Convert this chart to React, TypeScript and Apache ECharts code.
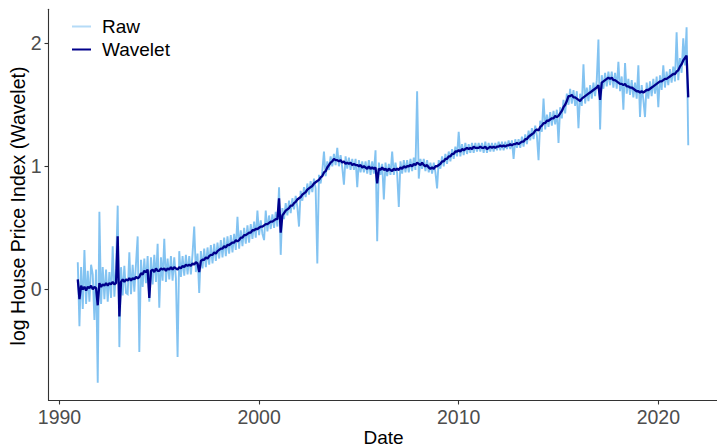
import { useEffect, useRef } from "react";
import * as echarts from "echarts";

// Monthly observations, first one December 1990, last one July 2021
const START_YEAR = 1990;
const START_MONTH = 12;

const X_TICKS = [1990, 2000, 2010, 2020];
const Y_TICKS = [0, 1, 2];

const RAW: number[] = [
  0.22,
  -0.30, 0.18, -0.16, 0.32, -0.12, 0.15, -0.10, 0.20, 0.12, -0.25, 0.16, -0.76, // 1991
  0.63, -0.12, 0.18, -0.08, 0.16, -0.10, 0.14, -0.07, 0.35, -0.06, 0.17, 0.68, // 1992
  -0.47, 0.18, -0.05, 0.19, -0.03, -0.04, 0.30, -0.04, 0.20, -0.02, 0.21, 0.43, // 1993
  -0.51, 0.24, 0.02, 0.25, 0.05, 0.27, -0.10, 0.26, 0.04, 0.28, 0.06, 0.37, // 1994
  -0.15, 0.26, 0.07, 0.41, 0.06, 0.25, 0.08, 0.27, 0.07, 0.26, 0.09, -0.55, // 1995
  0.31, 0.10, 0.27, 0.11, 0.28, 0.12, 0.27, 0.12, 0.29, 0.51, 0.14, 0.29, // 1996
  -0.03, 0.31, 0.17, 0.33, 0.18, 0.34, 0.20, 0.36, 0.21, 0.37, 0.23, 0.38, // 1997
  0.25, 0.40, 0.26, 0.42, 0.27, 0.43, 0.29, 0.44, 0.30, 0.45, 0.32, 0.59, // 1998
  0.33, 0.48, 0.35, 0.50, 0.37, 0.52, 0.38, 0.53, 0.41, 0.55, 0.42, 0.64, // 1999
  0.44, 0.56, 0.45, 0.40, 0.64, 0.47, 0.60, 0.49, 0.61, 0.50, 0.63, 0.51, // 2000
  0.83, 0.28, 0.66, 0.57, 0.70, 0.60, 0.72, 0.62, 0.74, 0.65, 0.76, 0.67, // 2001
  0.51, 0.80, 0.72, 0.83, 0.75, 0.86, 0.77, 0.88, 0.79, 0.90, 0.82, 0.21, // 2002
  0.93, 0.86, 0.96, 1.12, 0.92, 1.04, 0.97, 1.08, 1.00, 1.10, 1.01, 1.15, // 2003
  1.00, 1.09, 0.99, 0.85, 1.08, 0.98, 1.07, 0.97, 1.06, 0.97, 1.06, 0.83, // 2004
  1.05, 0.95, 1.04, 0.95, 1.04, 0.94, 1.05, 0.93, 1.04, 0.94, 1.13, 0.39, // 2005
  1.03, 0.93, 1.02, 0.73, 1.03, 0.92, 1.02, 0.93, 1.12, 0.93, 1.03, 0.94, // 2006
  0.67, 1.04, 0.94, 1.05, 0.95, 1.05, 0.95, 1.06, 0.96, 1.07, 0.97, 1.61, // 2007
  0.90, 1.06, 0.98, 1.06, 0.96, 1.05, 0.95, 1.03, 0.94, 1.03, 0.95, 0.82, // 2008
  1.05, 0.98, 1.08, 1.00, 1.10, 1.02, 1.12, 1.04, 1.14, 1.06, 1.16, 1.08, // 2009
  1.28, 1.08, 1.18, 1.09, 1.19, 1.10, 1.18, 1.11, 1.19, 1.11, 1.19, 1.12, // 2010
  1.19, 1.12, 1.19, 1.11, 1.20, 1.11, 1.19, 1.12, 1.19, 1.12, 1.19, 1.13, // 2011
  1.20, 1.13, 1.20, 1.13, 1.20, 1.14, 1.21, 1.14, 1.21, 1.06, 1.22, 1.15, // 2012
  1.22, 1.15, 1.24, 1.16, 1.26, 1.18, 1.29, 1.21, 1.31, 1.22, 1.33, 1.25, // 2013
  1.05, 1.37, 1.28, 1.55, 1.30, 1.42, 1.32, 1.44, 1.33, 1.45, 1.34, 1.46, // 2014
  1.19, 1.48, 1.39, 1.54, 1.43, 1.59, 1.50, 1.63, 1.51, 1.62, 1.49, 1.61, // 2015
  1.31, 1.59, 1.49, 1.83, 1.51, 1.64, 1.53, 1.66, 1.55, 1.68, 1.57, 1.70, // 2016
  2.03, 1.30, 1.74, 1.63, 1.76, 1.65, 1.77, 1.66, 1.77, 1.64, 1.76, 1.63, // 2017
  1.85, 1.61, 1.73, 1.46, 1.84, 1.59, 1.71, 1.58, 1.70, 1.56, 1.68, 1.55, // 2018
  1.82, 1.40, 1.66, 1.54, 1.40, 1.68, 1.55, 1.69, 1.57, 1.71, 1.59, 1.73, // 2019
  1.48, 1.74, 1.62, 1.82, 1.64, 1.77, 1.66, 1.79, 1.68, 1.81, 1.69, 2.09, // 2020
  1.70, 1.88, 1.76, 2.04, 1.82, 2.13, 1.17, // 2021
];

const WAVELET: number[] = [
  0.08,
  -0.08, 0.03, 0.00, 0.02, -0.01, 0.02, 0.01, 0.03, 0.00, 0.02, 0.01, -0.13, // 1991
  0.05, 0.02, 0.04, 0.03, 0.05, 0.03, 0.05, 0.04, 0.06, 0.04, 0.05, 0.43, // 1992
  -0.22, 0.06, 0.08, 0.06, 0.08, 0.07, 0.09, 0.07, 0.09, 0.08, 0.10, 0.09, // 1993
  0.10, 0.13, 0.12, 0.15, 0.14, 0.16, -0.07, 0.15, 0.16, 0.14, 0.17, 0.15, // 1994
  0.15, 0.17, 0.16, 0.17, 0.15, 0.17, 0.16, 0.18, 0.16, 0.18, 0.17, 0.16, // 1995
  0.18, 0.17, 0.19, 0.18, 0.20, 0.19, 0.20, 0.19, 0.21, 0.20, 0.22, 0.21, // 1996
  0.14, 0.23, 0.24, 0.24, 0.26, 0.25, 0.27, 0.28, 0.28, 0.30, 0.29, 0.31, // 1997
  0.32, 0.33, 0.33, 0.35, 0.34, 0.36, 0.36, 0.37, 0.38, 0.38, 0.40, 0.39, // 1998
  0.40, 0.42, 0.42, 0.44, 0.44, 0.45, 0.46, 0.46, 0.48, 0.48, 0.49, 0.49, // 1999
  0.50, 0.51, 0.51, 0.52, 0.53, 0.53, 0.54, 0.55, 0.55, 0.56, 0.57, 0.57, // 2000
  0.74, 0.46, 0.60, 0.62, 0.64, 0.65, 0.66, 0.68, 0.68, 0.70, 0.71, 0.73, // 2001
  0.74, 0.75, 0.77, 0.78, 0.79, 0.81, 0.82, 0.83, 0.84, 0.86, 0.87, 0.88, // 2002
  0.89, 0.91, 0.92, 0.95, 0.96, 0.99, 1.01, 1.03, 1.04, 1.06, 1.05, 1.05, // 2003
  1.04, 1.05, 1.03, 1.04, 1.02, 1.03, 1.02, 1.03, 1.01, 1.02, 1.01, 1.01, // 2004
  1.00, 1.01, 0.99, 1.00, 0.99, 0.98, 1.00, 0.98, 0.99, 0.98, 0.99, 0.86, // 2005
  0.98, 0.97, 0.99, 0.97, 0.98, 0.96, 0.98, 0.97, 0.96, 0.98, 0.97, 0.98, // 2006
  0.97, 0.99, 0.98, 1.00, 0.99, 1.00, 1.00, 1.01, 1.00, 1.02, 1.01, 1.03, // 2007
  1.02, 1.01, 1.03, 1.01, 1.00, 1.01, 0.99, 0.98, 0.99, 0.98, 1.00, 1.00, // 2008
  1.01, 1.02, 1.04, 1.04, 1.06, 1.06, 1.08, 1.08, 1.10, 1.10, 1.12, 1.12, // 2009
  1.13, 1.12, 1.14, 1.13, 1.14, 1.15, 1.14, 1.15, 1.14, 1.16, 1.15, 1.15, // 2010
  1.15, 1.16, 1.15, 1.15, 1.16, 1.14, 1.15, 1.16, 1.15, 1.16, 1.15, 1.16, // 2011
  1.16, 1.17, 1.16, 1.17, 1.16, 1.17, 1.17, 1.18, 1.17, 1.18, 1.18, 1.19, // 2012
  1.18, 1.19, 1.20, 1.20, 1.22, 1.22, 1.24, 1.25, 1.26, 1.27, 1.29, 1.30, // 2013
  1.29, 1.32, 1.33, 1.35, 1.35, 1.37, 1.37, 1.38, 1.39, 1.39, 1.41, 1.40, // 2014
  1.41, 1.43, 1.45, 1.48, 1.50, 1.53, 1.57, 1.57, 1.58, 1.56, 1.56, 1.55, // 2015
  1.54, 1.53, 1.55, 1.56, 1.57, 1.58, 1.59, 1.60, 1.61, 1.62, 1.63, 1.64, // 2016
  1.66, 1.54, 1.68, 1.69, 1.70, 1.71, 1.72, 1.71, 1.72, 1.70, 1.70, 1.69, // 2017
  1.68, 1.67, 1.67, 1.66, 1.67, 1.65, 1.65, 1.64, 1.64, 1.63, 1.62, 1.61, // 2018
  1.61, 1.60, 1.61, 1.60, 1.61, 1.62, 1.62, 1.63, 1.64, 1.65, 1.66, 1.67, // 2019
  1.68, 1.69, 1.69, 1.70, 1.71, 1.71, 1.72, 1.73, 1.74, 1.75, 1.75, 1.77, // 2020
  1.78, 1.81, 1.83, 1.86, 1.88, 1.90, 1.56, // 2021
];

// decimal-year date of each monthly observation
const DATES: number[] = RAW.map((_, i) => START_YEAR + (START_MONTH - 1 + i) / 12);

const FONT = "'Liberation Sans', Arial, sans-serif";

export default function App() {
  const ref = useRef<HTMLDivElement>(null);

  useEffect(() => {
    if (!ref.current) return;
    const chart = echarts.init(ref.current, null, { renderer: "svg" });
    chart.setOption({
      animation: false,
      backgroundColor: "#ffffff",
      textStyle: { fontFamily: FONT },
      grid: { left: 48.5, right: 0, top: 9.3, bottom: 47.5, containLabel: false },
      xAxis: {
        type: "value",
        min: 1989.45,
        max: 2022.94,
        splitLine: { show: false },
        axisLine: { show: true, onZero: false, lineStyle: { color: "#333333", width: 1.1 } },
        axisTick: { show: true, customValues: X_TICKS, length: 4, lineStyle: { color: "#333333", width: 1.1 } },
        axisLabel: {
          customValues: X_TICKS,
          color: "#4d4d4d",
          fontSize: 19.5,
          fontFamily: FONT,
          margin: 6,
          formatter: (v: number) => String(Math.round(v)),
        },
      },
      yAxis: {
        type: "value",
        min: -0.904,
        max: 2.276,
        splitLine: { show: false },
        axisLine: { show: true, onZero: false, lineStyle: { color: "#333333", width: 1.1 } },
        axisTick: { show: true, customValues: Y_TICKS, length: 4, lineStyle: { color: "#333333", width: 1.1 } },
        axisLabel: {
          customValues: Y_TICKS,
          color: "#4d4d4d",
          fontSize: 19.5,
          fontFamily: FONT,
          margin: 7,
          formatter: (v: number) => String(Math.round(v)),
        },
      },
      legend: {
        orient: "vertical",
        left: 67,
        top: 12,
        itemWidth: 19,
        itemHeight: 2,
        itemGap: 4,
        icon: "rect",
        textStyle: { fontSize: 19, color: "#000000", fontFamily: FONT, padding: [0, 0, 0, 6] },
        data: [
          { name: "Raw", itemStyle: { color: "#b5dbf7" } },
          { name: "Wavelet", itemStyle: { color: "#00008b" } },
        ],
      },
      series: [
        {
          name: "Raw",
          type: "line",
          data: DATES.map((d, i) => [d, RAW[i]]),
          symbol: "none",
          showSymbol: false,
          silent: true,
          itemStyle: { color: "#6db9ee" },
          lineStyle: { color: "#6db9ee", width: 1.9, opacity: 0.85, join: "miter" },
        },
        {
          name: "Wavelet",
          type: "line",
          data: DATES.map((d, i) => [d, WAVELET[i]]),
          symbol: "none",
          showSymbol: false,
          silent: true,
          itemStyle: { color: "#00008b" },
          lineStyle: { color: "#00008b", width: 2.3 },
        },
      ],
      graphic: [
        {
          type: "text",
          x: 383.5,
          y: 437,
          style: {
            text: "Date",
            fontSize: 19,
            fontFamily: FONT,
            fill: "#000000",
            align: "center",
            verticalAlign: "middle",
          },
        },
        {
          type: "text",
          x: 17.5,
          y: 206,
          rotation: Math.PI / 2,
          style: {
            text: "log House Price Index (Wavelet)",
            fontSize: 19.5,
            fontFamily: FONT,
            fill: "#000000",
            align: "center",
            verticalAlign: "middle",
          },
        },
      ],
    });
    return () => chart.dispose();
  }, []);

  return (
    <div
      ref={ref}
      style={{ position: "absolute", left: 0, top: 0, width: 717, height: 448 }}
    />
  );
}
